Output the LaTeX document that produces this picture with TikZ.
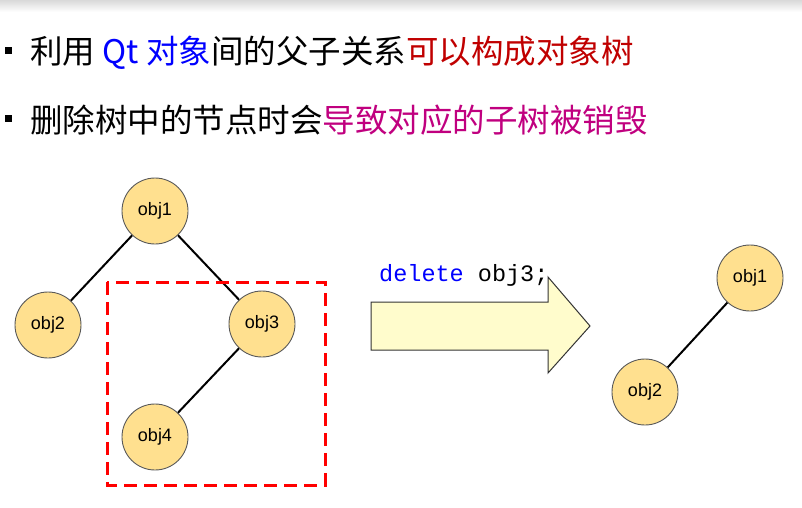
\documentclass[tikz,border=0pt]{standalone}
\usepackage{fontspec}
\setmainfont{Noto Sans CJK SC}
\newfontfamily\cjk{Noto Sans CJK SC}
\setmonofont{Liberation Mono}
\definecolor{nodefill}{HTML}{FFE08F}
\definecolor{darkred}{HTML}{C00000}
\definecolor{mag}{HTML}{C0007F}
\begin{document}
\begin{tikzpicture}[x=1pt,y=-1pt,
  obj/.style={circle,draw=gray!70!black,line width=0.9pt,fill=nodefill,minimum size=66pt,inner sep=0pt,font=\fontspec{Liberation Sans}\fontsize{18}{20}\selectfont},
  edge/.style={line width=2pt}]
\useasboundingbox (0,0) rectangle (802,507);
\fill[top color=gray!30,bottom color=white] (0,0) rectangle (802,12);
\fill (5,47) rectangle (12,54);
\fill (5,115) rectangle (12,122);
\node[anchor=west,inner sep=0pt,font=\cjk\fontsize{32.5}{36}\selectfont] (l1) at (30,53) {利用 \textcolor{blue}{Qt 对象}间的父子关系\textcolor{darkred}{可以构成对象树}};
\node[anchor=west,inner sep=0pt,font=\cjk\fontsize{32.5}{36}\selectfont] (l2) at (30,120) {删除树中的节点时会\textcolor{mag}{导致对应的子树被销毁}};
\node[obj] (a1) at (155,211) {obj1};
\node[obj] (a2) at (48,325) {obj2};
\node[obj] (a3) at (262,324) {obj3};
\node[obj] (a4) at (155,437) {obj4};
\draw[edge] (a1) -- (a2);
\draw[edge] (a1) -- (a3);
\draw[edge] (a3) -- (a4);
\draw[red,line width=3pt,dash pattern=on 13pt off 7pt] (107,282) rectangle (325,485);
\node[anchor=west,inner sep=0pt,font=\ttfamily\fontsize{23.5}{26}\selectfont] (code) at (379,275) {\textcolor{blue}{delete} obj3;};
\draw[fill=yellow!20,draw=black!80,line width=1pt] (371,302) -- (548,302) -- (548,277) -- (590,326) -- (548,373) -- (548,350) -- (371,350) -- cycle;
\node[obj] (b1) at (750,278) {obj1};
\node[obj] (b2) at (645,392) {obj2};
\draw[edge] (b1) -- (b2);
\end{tikzpicture}
\end{document}
